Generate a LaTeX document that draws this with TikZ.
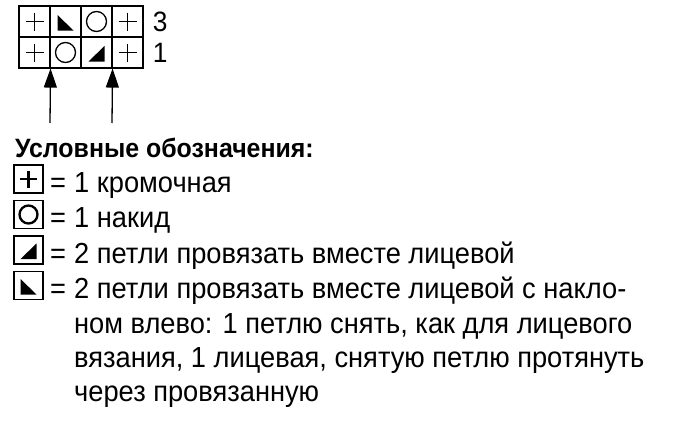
\documentclass[tikz,border=0pt]{standalone}
\usepackage{fontspec}
\setmainfont{Liberation Sans}[FakeStretch=0.94]
\usetikzlibrary{positioning,arrows.meta}

\tikzset{
  cell/.style={draw, line width=1.1pt, minimum size=31pt, inner sep=0pt},
  keybox/.style={draw, line width=1.6pt, minimum width=29pt, minimum height=28pt, inner sep=0pt},
  keytext/.style={anchor=base west, inner sep=0pt, font=\fontsize{29}{34}\selectfont},
  rownum/.style={anchor=west, inner sep=0pt, font=\fontsize{28}{32}\selectfont},
  up/.style={-{Triangle[length=19pt,width=13pt]}, line width=1.3pt},
  gridsym/.style={line width=1.3pt},
  keysym/.style={line width=2.3pt},
  pics/edgest/.style={code={\draw (-#1,0) -- (#1,0) (0,-#1) -- (0,#1);}},
  pics/yo/.style={code={\draw (0,0) circle (#1);}},
  pics/ktog/.style={code={\fill (-8,9) -- (8,9) -- (8,-6.5) -- cycle;}},
  pics/ssk/.style={code={\fill (-8,-6.5) -- (-8,9) -- (8,9) -- cycle;}},
}

\begin{document}
\begin{tikzpicture}[x=1pt, y=-1pt]
  \useasboundingbox (0,0) rectangle (690,439);

  % chart: row 3 on top, row 1 below
  \foreach \c in {1,...,4} {
    \node[cell] (t\c) at (3.5+31*\c, 21.5) {};
    \node[cell] (b\c) at (3.5+31*\c, 52.5) {};
  }
  \pic[gridsym] at (t1) {edgest=9};
  \pic at (t2) {ssk};
  \pic[gridsym] at (t3) {yo=10};
  \pic[gridsym] at (t4) {edgest=9};
  \pic[gridsym] at (b1) {edgest=9};
  \pic[gridsym] at (b2) {yo=10};
  \pic at (b3) {ktog};
  \pic[gridsym] at (b4) {edgest=9};

  % row numbers
  \node[rownum, right=9pt of t4] (n3) {3};
  \node[rownum, right=9pt of b4] (n1) {1};

  % arrows under the chart
  \coordinate (a1) at (50,123);
  \coordinate (a2) at (112,123);
  \draw[up] (a1) -- (b1.south east);
  \draw[up] (a2) -- (b3.south east);

  % key
  \node[keytext, font=\fontsize{26.5}{30}\selectfont\bfseries] (title) at (15,157) {Условные обозначения:};

  \foreach \k in {1,...,4} {
    \node[keybox] (k\k) at (28.5,179+35.5*\k-35.5) {};
    \node[keytext] (eq\k) at (50,192+35.5*\k-35.5) {=};
  }
  \pic[keysym] at (k1) {edgest=8.5};
  \pic[keysym] at (k2) {yo=9};
  \pic at (k3) {ktog};
  \pic at (k4) {ssk};

  \node[keytext] (d1) at (74,192) {1 кромочная};
  \node[keytext] (d2) at (74,227.5) {1 накид};
  \node[keytext] (d3) at (74,263) {2 петли провязать вместе лицевой};
  \node[keytext] (d4) at (74,298.5) {2 петли провязать вместе лицевой с накло-};
  \node[keytext] (d5) at (74,333) {ном влево: 1 петлю снять, как для лицевого};
  \node[keytext] (d6) at (74,367) {вязания, 1 лицевая, снятую петлю протянуть};
  \node[keytext] (d7) at (74,401) {через провязанную};
\end{tikzpicture}
\end{document}
